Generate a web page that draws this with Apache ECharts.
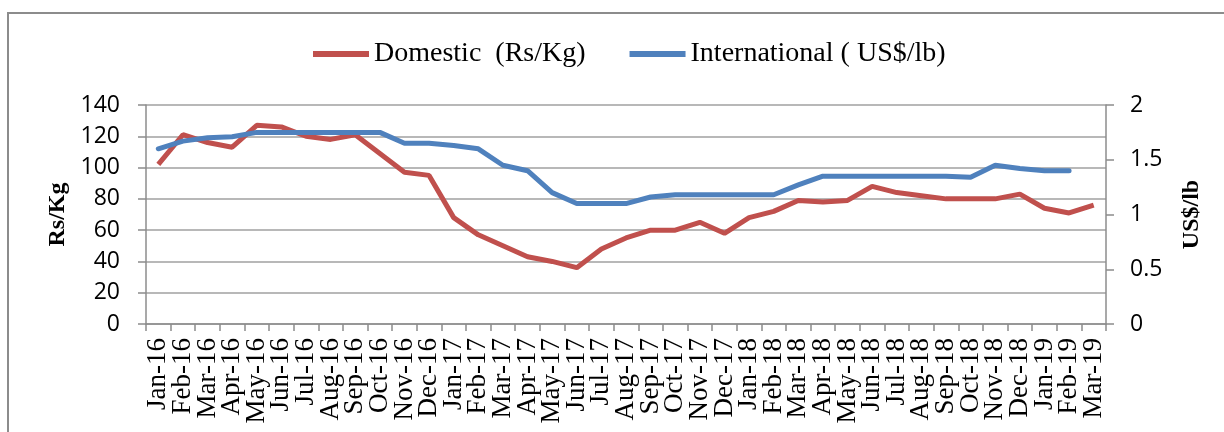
<!DOCTYPE html>
<html>
<head>
<meta charset="utf-8">
<script src="https://cdn.jsdelivr.net/npm/echarts@6/dist/echarts.min.js"></script>
<style>html,body{margin:0;padding:0;background:#fff;}#c{width:1224px;height:432px;}</style>
</head>
<body>
<div id="c"></div>
<script>
const categories = ['Jan-16','Feb-16','Mar-16','Apr-16','May-16','Jun-16','Jul-16','Aug-16','Sep-16','Oct-16','Nov-16','Dec-16',
  'Jan-17','Feb-17','Mar-17','Apr-17','May-17','Jun-17','Jul-17','Aug-17','Sep-17','Oct-17','Nov-17','Dec-17',
  'Jan-18','Feb-18','Mar-18','Apr-18','May-18','Jun-18','Jul-18','Aug-18','Sep-18','Oct-18','Nov-18','Dec-18',
  'Jan-19','Feb-19','Mar-19'];
const domestic = [102,121,116,113,127,126,120,118,121,109,97,95,
  68,57,50,43,40,36,48,55,60,60,65,58,
  68,72,79,78,79,88,84,82,80,80,80,83,
  74,71,76];
const international = [1.60,1.67,1.70,1.71,1.75,1.75,1.75,1.75,1.75,1.75,1.65,1.65,
  1.63,1.60,1.45,1.40,1.20,1.10,1.10,1.10,1.16,1.18,1.18,1.18,
  1.18,1.18,1.27,1.35,1.35,1.35,1.35,1.35,1.35,1.34,1.45,1.42,
  1.40,1.40,null];
const leftTicks = {min:0, max:140, interval:20};
const rightTicks = {min:0, max:2, interval:0.5};

const chart = echarts.init(document.getElementById('c'), null, {renderer:'canvas'});
const gridCol = '#a0a0a0';
const axisCol = '#8c8c8c';
chart.setOption({
  animation:false,
  backgroundColor:'#ffffff',
  graphic:[{type:'rect', shape:{x:8,y:13,width:1240,height:440}, style:{fill:'none', stroke:'#8c8c8c', lineWidth:2}, silent:true}],
  legend:{
    top:35, left:308, itemGap:44, itemWidth:56, itemHeight:6,
    textStyle:{fontFamily:'Liberation Serif', fontSize:28, color:'#000'},
    data:[{name:'Domestic  (Rs/Kg)', icon:'rect'},{name:'International ( US$/lb)', icon:'rect'}]
  },
  grid:{left:146, right:118, top:105, bottom:108},
  xAxis:{
    type:'category', data:categories, boundaryGap:true,
    axisLine:{lineStyle:{color:axisCol, width:1.5}},
    axisTick:{show:true, length:7, lineStyle:{color:axisCol, width:1.5}},
    axisLabel:{rotate:90, interval:0, margin:14, fontFamily:'Liberation Serif', fontSize:27, color:'#000'}
  },
  yAxis:[{
    type:'value', min:leftTicks.min, max:leftTicks.max, interval:leftTicks.interval,
    name:'Rs/Kg', nameLocation:'middle', nameGap:76, nameRotate:90,
    nameTextStyle:{fontFamily:'Liberation Serif', fontWeight:'bold', fontSize:24, color:'#000'},
    axisLine:{show:true, lineStyle:{color:axisCol, width:1.5}},
    axisTick:{show:true, length:8, lineStyle:{color:axisCol, width:1.5}},
    axisLabel:{margin:26, fontFamily:'Open Sans', fontSize:23, color:'#000'},
    splitLine:{show:true, lineStyle:{color:gridCol, width:1.5}}
  },{
    type:'value', min:rightTicks.min, max:rightTicks.max, interval:rightTicks.interval, position:'right',
    name:'US$/lb', nameLocation:'middle', nameGap:74, nameRotate:90,
    nameTextStyle:{fontFamily:'Liberation Serif', fontWeight:'bold', fontSize:24, color:'#000'},
    axisLine:{show:true, lineStyle:{color:axisCol, width:1.5}},
    axisTick:{show:true, length:8, lineStyle:{color:axisCol, width:1.5}},
    axisLabel:{margin:24, fontFamily:'Open Sans', fontSize:23, color:'#000'},
    splitLine:{show:false}
  }],
  series:[{
    name:'Domestic  (Rs/Kg)', type:'line', data:domestic, yAxisIndex:0,
    showSymbol:false, symbol:'none', color:'#C0504D',
    lineStyle:{color:'#C0504D', width:5}, itemStyle:{color:'#C0504D'}
  },{
    name:'International ( US$/lb)', type:'line', data:international, yAxisIndex:1,
    showSymbol:false, symbol:'none', color:'#4F81BD',
    lineStyle:{color:'#4F81BD', width:5, cap:'round'}, itemStyle:{color:'#4F81BD'}
  }]
});
</script>
</body>
</html>
